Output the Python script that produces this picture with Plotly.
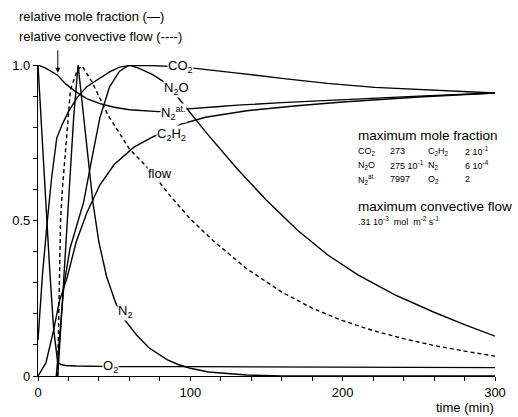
import plotly.graph_objects as go

# ---- data (time in min, relative values) ----
t_O2 = [0, 1, 2.6, 5.2, 7.7, 10.3, 12.9, 15, 18, 25, 50, 100, 200, 300]
v_O2 = [1.0, 0.91, 0.77, 0.53, 0.34, 0.15, 0.045, 0.037, 0.034, 0.032, 0.03, 0.03, 0.028, 0.027]

t_N2at = [0, 5, 12.7, 18, 24.5, 32, 40.6, 50, 60, 70, 79, 90, 98.7, 115, 131, 160, 200, 250, 300]
v_N2at = [1.0, 0.99, 0.968, 0.94, 0.915, 0.892, 0.876, 0.864, 0.856, 0.852, 0.85, 0.854, 0.859, 0.865, 0.871, 0.879, 0.889, 0.9, 0.91]

t_CO2 = [0, 3, 6.3, 9, 12.3, 16, 20, 25.6, 32, 40.6, 47, 53.5, 60, 70, 80, 93.5, 102, 115, 131, 160, 190, 221, 260, 300]
v_CO2 = [0.116, 0.33, 0.508, 0.64, 0.765, 0.81, 0.85, 0.895, 0.93, 0.958, 0.978, 0.993, 0.998, 0.999, 0.997, 0.994, 0.99, 0.982, 0.974, 0.957, 0.941, 0.928, 0.918, 0.91]

t_N2O = [12, 14, 17, 21, 25.6, 30, 35, 40.6, 47, 53.5, 60, 66, 75, 84, 93, 110, 131, 150, 170, 190, 210, 234, 260, 280, 300]
v_N2O = [0.0, 0.12, 0.29, 0.41, 0.49, 0.56, 0.69, 0.83, 0.93, 0.98, 1.0, 0.99, 0.97, 0.942, 0.889, 0.785, 0.665, 0.565, 0.47, 0.39, 0.325, 0.262, 0.205, 0.165, 0.128]

t_N2 = [13, 16, 19.2, 21.5, 23.4, 26.3, 28.8, 33, 36, 40, 45, 51, 57, 65, 73, 85, 92, 100, 112, 137, 160, 200, 300]
v_N2 = [0.0, 0.25, 0.5, 0.68, 0.83, 1.0, 0.89, 0.7, 0.56, 0.43, 0.32, 0.235, 0.18, 0.13, 0.09, 0.052, 0.037, 0.025, 0.013, 0.003, 0.0, 0.0, 0.0]

t_C2H2 = [0, 5.2, 10.3, 14, 19.2, 25, 32, 40.6, 50, 63, 75, 87.7, 94, 110, 137, 170, 200, 250, 300]
v_C2H2 = [0.0, 0.042, 0.148, 0.24, 0.318, 0.43, 0.524, 0.614, 0.68, 0.736, 0.768, 0.795, 0.81, 0.832, 0.853, 0.869, 0.881, 0.897, 0.91]

t_flow = [12.9, 13.5, 14.8, 16, 18, 21.3, 25.8, 29, 35.5, 45.8, 60, 72.9, 87, 100, 115, 137, 160, 180, 200, 220, 240, 260, 280, 300]
v_flow = [0.0, 0.21, 0.5, 0.6, 0.727, 0.92, 0.984, 0.997, 0.945, 0.84, 0.73, 0.665, 0.578, 0.505, 0.435, 0.345, 0.27, 0.218, 0.178, 0.146, 0.12, 0.098, 0.08, 0.064]

x_ticks = [0, 100, 200, 300]
x_ticklabels = ["0", "100", "200", "300"]
y_ticks = [0, 0.5, 1.0]
y_ticklabels = ["0", "0.5", "1.0"]

FONT = "Liberation Sans"
LW = 1.4

fig = go.Figure()
solid = [(t_O2, v_O2), (t_N2at, v_N2at), (t_CO2, v_CO2), (t_N2O, v_N2O),
         (t_N2, v_N2), (t_C2H2, v_C2H2)]
for tx, vy in solid:
    fig.add_trace(go.Scatter(x=tx, y=vy, mode="lines", line=dict(color="black", width=LW),
                             showlegend=False, hoverinfo="skip"))
fig.add_trace(go.Scatter(x=t_flow, y=v_flow, mode="lines",
                         line=dict(color="black", width=LW, dash="4px,3px"),
                         showlegend=False, hoverinfo="skip"))

# curve labels (white background masks the line)
curve_labels = [
    (93.5, 0.994, "CO<sub>2</sub>"),
    (91, 0.923, "N<sub>2</sub>O"),
    (89, 0.846, "N<sub>2</sub><sup>at.</sup>"),
    (87.7, 0.778, "C<sub>2</sub>H<sub>2</sub>"),
    (80, 0.65, "flow"),
    (56.8, 0.206, "N<sub>2</sub>"),
    (47.7, 0.029, "O<sub>2</sub>"),
]
for x, y, txt in curve_labels:
    fig.add_annotation(x=x, y=y, xref="x", yref="y", text=txt, showarrow=False,
                       font=dict(family=FONT, size=13, color="black"),
                       bgcolor="white", borderpad=0)

# arrow
fig.add_annotation(x=13, y=0.975, xref="x", yref="y", ax=0, ay=-24, text="",
                   showarrow=True, arrowhead=2, arrowsize=1, arrowwidth=1, arrowcolor="black")

def ptxt(x, y, txt, size, xanchor="left"):
    fig.add_annotation(x=x, y=y, xref="paper", yref="paper", text=txt, showarrow=False,
                       xanchor=xanchor, yanchor="middle",
                       font=dict(family=FONT, size=size, color="black"))

ptxt(-0.047, 1.157, "relative mole fraction (—)", 13)
ptxt(-0.047, 1.092, "relative convective flow (----)", 13)
ptxt(1.002, -0.102, "time (min)", 13, xanchor="right")

ptxt(0.695, 0.772, "maximum mole fraction", 13.5)
rows = [
    (0.722, ["CO<sub>2</sub>", "273", "C<sub>2</sub>H<sub>2</sub>", "2 10<sup>-1</sup>"]),
    (0.677, ["N<sub>2</sub>O", "275 10<sup>-1</sup>", "N<sub>2</sub>", "6 10<sup>-4</sup>"]),
    (0.632, ["N<sub>2</sub><sup>at.</sup>", "7997", "O<sub>2</sub>", "2"]),
]
cols = [0.695, 0.766, 0.85, 0.93]
for yy, cells in rows:
    for cx, c in zip(cols, cells):
        ptxt(cx, yy, c, 9)
ptxt(0.695, 0.545, "maximum convective flow", 13.5)
ptxt(0.695, 0.497, ".31 10<sup>-3</sup>  mol  m<sup>-2</sup> s<sup>-1</sup>", 9)

fig.update_layout(
    width=518, height=417,
    margin=dict(l=37, r=16, t=65, b=41),
    paper_bgcolor="white", plot_bgcolor="white",
    font=dict(family=FONT, size=13, color="black"),
    showlegend=False,
)
fig.update_xaxes(range=[0, 300], showline=True, linecolor="black", linewidth=1.2,
                 showgrid=False, zeroline=False,
                 tickmode="array", tickvals=x_ticks, ticktext=x_ticklabels,
                 ticks="outside", ticklen=4, tickcolor="black", tickwidth=1,
                 minor=dict(tickvals=list(range(0, 301, 20)), ticks="outside", ticklen=4, tickcolor="black"),
                 tickfont=dict(family=FONT, size=13))
fig.update_yaxes(range=[0, 1.0], showline=True, linecolor="black", linewidth=1.2,
                 showgrid=False, zeroline=False,
                 tickmode="array", tickvals=y_ticks, ticktext=y_ticklabels,
                 ticks="outside", ticklen=4, tickcolor="black", tickwidth=1,
                 minor=dict(tickvals=[i / 10 for i in range(11)], ticks="outside", ticklen=4, tickcolor="black"),
                 tickfont=dict(family=FONT, size=13))

fig.write_html("out.html", config={"displayModeBar": False},
               post_script="document.body.style.margin='0';document.body.style.padding='0';")
